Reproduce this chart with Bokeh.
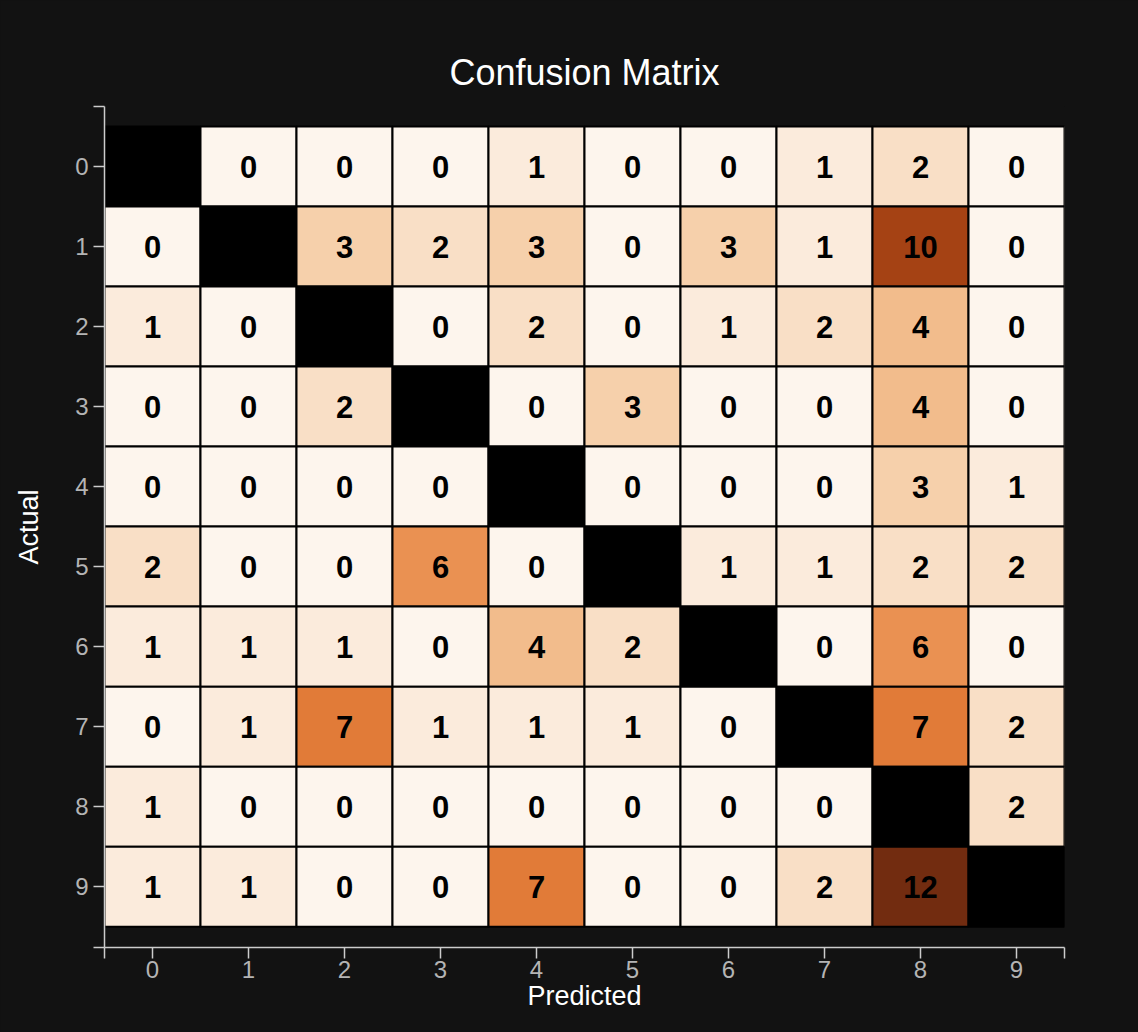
from bokeh.plotting import figure
from bokeh.models import ColumnDataSource, Range1d, FixedTicker, Title
from bokeh.core.properties import value
from bokeh.embed import file_html
from bokeh.resources import INLINE

labels = ["0", "1", "2", "3", "4", "5", "6", "7", "8", "9"]
row_0 = [None, 0, 0, 0, 1, 0, 0, 1, 2, 0]
row_1 = [0, None, 3, 2, 3, 0, 3, 1, 10, 0]
row_2 = [1, 0, None, 0, 2, 0, 1, 2, 4, 0]
row_3 = [0, 0, 2, None, 0, 3, 0, 0, 4, 0]
row_4 = [0, 0, 0, 0, None, 0, 0, 0, 3, 1]
row_5 = [2, 0, 0, 6, 0, None, 1, 1, 2, 2]
row_6 = [1, 1, 1, 0, 4, 2, None, 0, 6, 0]
row_7 = [0, 1, 7, 1, 1, 1, 0, None, 7, 2]
row_8 = [1, 0, 0, 0, 0, 0, 0, 0, None, 2]
row_9 = [1, 1, 0, 0, 7, 0, 0, 2, 12, None]
rows = [row_0, row_1, row_2, row_3, row_4, row_5, row_6, row_7, row_8, row_9]

# d3 interpolateOranges (basis spline over the 9-colour scheme), slightly muted
scheme = ["fff5eb", "fee6ce", "fdd0a2", "fdae6b", "fd8d3c", "f16913", "d94801", "a63603", "7f2704"]
ramp = [[int(h[i:i + 2], 16) for i in (0, 2, 4)] for h in scheme]


def basis(t1, v0, v1, v2, v3):
    t2 = t1 * t1
    t3 = t2 * t1
    return ((1 - 3 * t1 + 3 * t2 - t3) * v0 + (4 - 6 * t2 + 3 * t3) * v1
            + (1 + 3 * t1 + 3 * t2 - 3 * t3) * v2 + t3 * v3) / 6


def oranges(t, sat=0.8):
    n = len(ramp) - 1
    if t <= 0:
        t = 0
        i = 0
    elif t >= 1:
        t = 1
        i = n - 1
    else:
        i = int(t * n)
    rgb = []
    for c in range(3):
        v1 = ramp[i][c]
        v2 = ramp[i + 1][c]
        v0 = ramp[i - 1][c] if i > 0 else 2 * v1 - v2
        v3 = ramp[i + 2][c] if i < n - 1 else 2 * v2 - v1
        rgb.append(basis((t - i / n) * n, v0, v1, v2, v3))
    lum = 0.3 * rgb[0] + 0.59 * rgb[1] + 0.11 * rgb[2]
    out = [max(0, min(255, round(lum + (v - lum) * sat))) for v in rgb]
    return "#%02x%02x%02x" % tuple(out)


vmax = max(v for r in rows for v in r if v is not None)

xs, ys, fills, texts, tx, ty = [], [], [], [], [], []
for a, r in enumerate(rows):
    for pcol, v in enumerate(r):
        xs.append(pcol)
        ys.append(a)
        if v is None:
            fills.append("#000000")
        else:
            fills.append(oranges(v / vmax))
            texts.append(str(v))
            tx.append(pcol)
            ty.append(a)

cells = ColumnDataSource(dict(x=xs, y=ys, fill=fills))
nums = ColumnDataSource(dict(x=tx, y=ty, t=texts))

BG = "#121212"
p = figure(width=1138, height=1032, output_backend="svg", toolbar_location=None,
           x_range=Range1d(-0.5, 9.5), y_range=Range1d(9.76, -0.75),
           min_border_left=104, min_border_right=74, min_border_top=106,
           min_border_bottom=85,
           background_fill_color=BG, border_fill_color=BG,
           outline_line_color=None)
p.styles = {"background-color": BG}
p.xgrid.visible = False
p.ygrid.visible = False

p.rect(x="x", y="y", width=1, height=1, source=cells, fill_color="fill",
       line_color="#000000", line_width=2)
p.text(x="x", y="y", text="t", source=nums, text_align="center",
       text_baseline="middle", text_color="#000000", text_font_size="31px",
       text_font=value("Liberation Sans"), text_font_style="bold")

xt = [-0.5] + list(range(10)) + [9.5]
yt = [-0.75] + list(range(10)) + [9.76]
for ax, ticks, name in ((p.xaxis[0], xt, "Predicted"), (p.yaxis[0], yt, "Actual")):
    ax.ticker = FixedTicker(ticks=ticks)
    ov = {i: labels[i] for i in range(10)}
    ov[ticks[0]] = ""
    ov[ticks[-1]] = ""
    ax.major_label_overrides = ov
    ax.axis_line_color = "#cccccc"
    ax.axis_line_width = 1.5
    ax.major_tick_line_color = "#cccccc"
    ax.major_tick_line_width = 1.5
    ax.major_tick_out = 11
    ax.major_tick_in = 0
    ax.minor_tick_line_color = None
    ax.major_label_text_color = "#b4b4b4"
    ax.major_label_text_font = "Liberation Sans"
    ax.major_label_text_font_size = "24px"
    ax.axis_label = name
    ax.axis_label_text_color = "#ffffff"
    ax.axis_label_text_font = "Liberation Sans"
    ax.axis_label_text_font_size = "27px"
    ax.axis_label_text_font_style = "normal"

p.xaxis[0].major_label_standoff = 2
p.xaxis[0].axis_label_standoff = 0
p.yaxis[0].major_label_standoff = 5
p.yaxis[0].axis_label_standoff = 28
p.yaxis[0].major_label_orientation = "horizontal"

p.title = Title(text="Confusion Matrix", align="center", text_color="#ffffff",
                text_font="Liberation Sans", text_font_size="36px",
                text_font_style="normal", standoff=27)

html = file_html(p, INLINE)
html = html.replace("<body>", '<body style="margin:0;background:#121212">', 1)
open("out.html", "w").write(html)
